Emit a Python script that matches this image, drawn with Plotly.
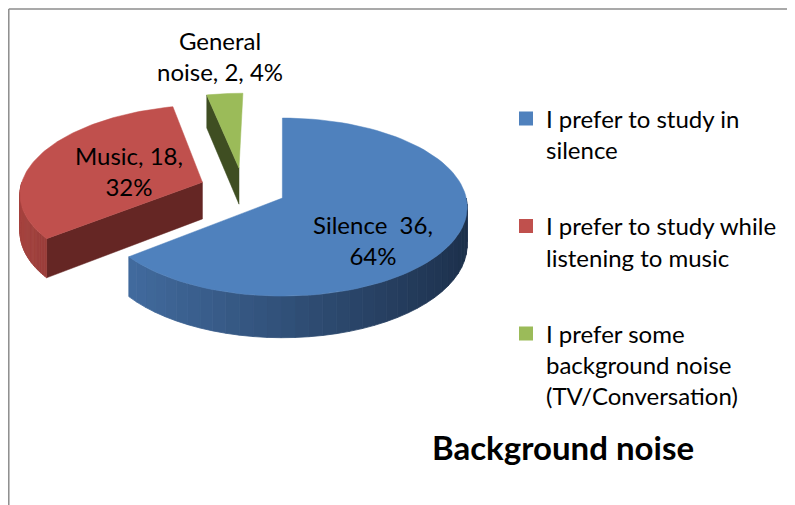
import numpy as np
import plotly.graph_objects as go

# ---------------- data ----------------
legend_labels = [
    "I prefer to study in<br>silence",
    "I prefer to study while<br>listening to music",
    "I prefer some<br>background noise<br>(TV/Conversation)",
]
counts = [36, 18, 2]
total = sum(counts)
pcts = [round(c / total * 100) for c in counts]
label_texts = [
    f"Silence  {counts[0]},<br>{pcts[0]}%",
    f"Music, {counts[1]},<br>{pcts[1]}%",
    f"General<br>noise, {counts[2]}, {pcts[2]}%",
]
title_text = "Background noise"

# ---------------- style ----------------
top_colors = ["#4F81BD", "#C0504D", "#9BBB59"]
wall_left = ["#4672a8", "#a6433f", "#7a9446"]
wall_right = ["#1c2f4a", "#3a1514", "#2e3a18"]
radial_colors = ["#2c4a70", "#652624", "#3f4e22"]
pulls = [0.24, 0.24, 0.25]
label_pos = [(373, 240), (129, 171), (220, 56)]

W, H = 795, 505
OFF = 8  # page offset of the plot div
RX, RY, D = 182, 86.3, 37
CX, Y0 = 243, 189
X0, K = 283, 0.10
FONT = "Lato"


def proj(u, v, dz=0.0):
    s = 1.0 / (1.0 - K * v)
    return X0 + (CX + RX * u - X0) * s, Y0 + (RY * v + dz) * s


def mix(c1, c2, t):
    a = [int(c1[i:i + 2], 16) for i in (1, 3, 5)]
    b = [int(c2[i:i + 2], 16) for i in (1, 3, 5)]
    return "#" + "".join(f"{int(round(a[k] + (b[k] - a[k]) * t)):02x}" for k in range(3))


def px(x):
    return (x - OFF) / W


def py(y):
    return 1 - (y - OFF) / H


fig = go.Figure()
bounds = np.concatenate([[0], np.cumsum(counts)]) / total * 360.0

order = [2, 1, 0]  # back to front
for i in order:
    a0, a1 = bounds[i], bounds[i + 1]
    mid = np.radians((a0 + a1) / 2)
    uc = pulls[i] * np.sin(mid)
    vc = -pulls[i] * np.cos(mid)

    def P(th_deg, dz=0.0):
        th = np.radians(th_deg)
        return proj(uc + np.sin(th), vc - np.cos(th), dz)

    ctop = proj(uc, vc)
    cbot = proj(uc, vc, D)

    # radial faces
    for edge, normal in ((a0, a0 - 90), (a1, a1 + 90)):
        if np.cos(np.radians(normal)) < -1e-6:
            et, eb = P(edge), P(edge, D)
            xs = [ctop[0], et[0], eb[0], cbot[0], ctop[0]]
            ys = [ctop[1], et[1], eb[1], cbot[1], ctop[1]]
            fig.add_trace(go.Scatter(
                x=xs, y=ys, mode="lines", fill="toself", fillcolor=radial_colors[i],
                line=dict(color=radial_colors[i], width=0.5),
                hoverinfo="skip", showlegend=False))

    # outer wall (front-facing part)
    t0, t1 = max(a0, 90), min(a1, 270)
    if t1 > t0:
        nseg = 36
        edges = np.linspace(t0, t1, nseg + 1)
        for k in range(nseg):
            th = np.linspace(edges[k], edges[k + 1], 4)
            top = [P(t) for t in th]
            bot = [P(t, D) for t in th[::-1]]
            xs = [p[0] for p in top + bot] + [top[0][0]]
            ys = [p[1] for p in top + bot] + [top[0][1]]
            tm = np.radians((edges[k] + edges[k + 1]) / 2)
            frac = (1 - np.sin(tm)) / 2
            col = mix(wall_right[i], wall_left[i], frac)
            fig.add_trace(go.Scatter(
                x=xs, y=ys, mode="lines", fill="toself", fillcolor=col,
                line=dict(color=col, width=0.8),
                hoverinfo="skip", showlegend=False))

    # top surface
    th = np.linspace(a0, a1, 90)
    arc = [P(t) for t in th]
    xs = [ctop[0]] + [p[0] for p in arc] + [ctop[0]]
    ys = [ctop[1]] + [p[1] for p in arc] + [ctop[1]]
    fig.add_trace(go.Scatter(
        x=xs, y=ys, mode="lines", fill="toself", fillcolor=top_colors[i],
        line=dict(color=top_colors[i], width=0.5),
        hoverinfo="skip", showlegend=False))

# data labels
for i in range(3):
    fig.add_annotation(x=label_pos[i][0], y=label_pos[i][1], text=label_texts[i],
                       showarrow=False, xref="x", yref="y",
                       xanchor="center", yanchor="middle",
                       font=dict(family=FONT, size=24, color="#000000"))

# legend entries
for i in range(3):
    fig.add_trace(go.Scatter(
        x=[None], y=[None], mode="markers", name=legend_labels[i],
        legendgroup=f"g{i}",
        marker=dict(symbol="square", size=14, color=top_colors[i]),
        hoverinfo="skip"))

fig.add_annotation(x=px(563), y=py(447), xref="paper", yref="paper",
                   xanchor="center", yanchor="middle",
                   text=f"<b>{title_text}</b>", showarrow=False,
                   font=dict(family=FONT, size=33, color="#000000"))

# chart border (top and left edges visible)
fig.add_shape(type="line", xref="paper", yref="paper",
              x0=0.001, x1=1, y0=0.998, y1=0.998,
              line=dict(color="#8c8c8c", width=1.5))
fig.add_shape(type="line", xref="paper", yref="paper",
              x0=0.001, x1=0.001, y0=0, y1=0.998,
              line=dict(color="#8c8c8c", width=1.5))

fig.update_layout(
    width=W, height=H,
    margin=dict(l=0, r=0, t=0, b=0),
    paper_bgcolor="white", plot_bgcolor="white",
    xaxis=dict(range=[OFF, W + OFF], visible=False, fixedrange=True),
    yaxis=dict(range=[H + OFF, OFF], visible=False, fixedrange=True),
    showlegend=True,
    legend=dict(x=px(506), y=py(96.5), xanchor="left", yanchor="top",
                font=dict(family=FONT, size=24, color="#000000"),
                valign="top", tracegroupgap=42, itemwidth=30,
                bgcolor="rgba(0,0,0,0)"),
)

fig.write_html("out.html")
